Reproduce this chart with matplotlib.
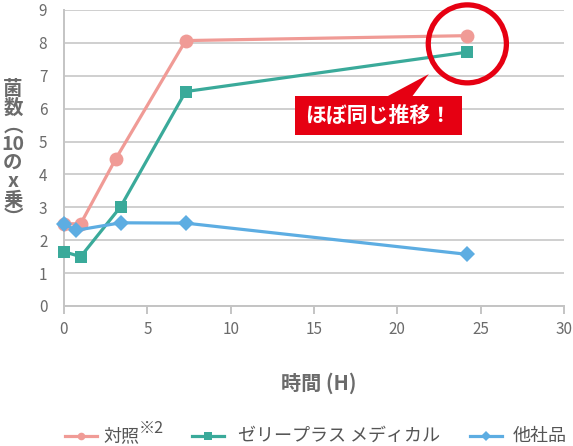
import matplotlib
matplotlib.use('Agg')
import matplotlib.pyplot as plt
from matplotlib.lines import Line2D
from matplotlib.patches import Ellipse, Rectangle, Polygon

plt.rcParams['font.family'] = ['Noto Sans CJK JP', 'DejaVu Sans']

# data
control_t = [0, 1, 3.1, 7.3, 24.2]
control_v = [2.5, 2.5, 4.47, 8.07, 8.22]
zeri_t = [0, 1, 3.4, 7.3, 24.2]
zeri_v = [1.65, 1.5, 3.02, 6.52, 7.72]
other_t = [0, 0.7, 3.4, 7.3, 24.2]
other_v = [2.5, 2.3, 2.53, 2.52, 1.57]

series_labels = ['対照', 'ゼリープラス メディカル', '他社品']
colors = ['#f09b96', '#3aaa9a', '#5dade2']
markers = ['o', 's', 'D']
msizes = [10, 9, 8]

W, H = 573, 446
fig = plt.figure(figsize=(W / 100, H / 100), dpi=100)
ax = fig.add_axes([64 / W, 1 - 306 / H, 500 / W, 296 / H])


def fx(px):
    return px / W


def fy(py):
    return 1 - py / H


gray_txt = '#6b6b6b'
grid_c = '#cfcfcf'

for t, v, c, m, s in zip([control_t, zeri_t, other_t],
                         [control_v, zeri_v, other_v],
                         colors, markers, msizes):
    ax.plot(t, v, color=c, lw=2.3, marker=m, markersize=s,
            markeredgewidth=0, zorder=3, clip_on=False)

ax.set_xlim(0, 30)
ax.set_ylim(0, 9)
ax.set_xticks(range(0, 31, 5))
ax.set_yticks(range(0, 10))
ax.yaxis.grid(True, color=grid_c, lw=1.4)
ax.set_axisbelow(True)
for sp in ['top', 'right']:
    ax.spines[sp].set_visible(False)
for sp in ['left', 'bottom']:
    ax.spines[sp].set_color('#c4c4c4')
    ax.spines[sp].set_linewidth(1.4)
ax.tick_params(axis='y', length=0, pad=12, labelsize=11, labelcolor=gray_txt)
ax.tick_params(axis='x', length=6, width=1.4, color='#c4c4c4', pad=5,
               labelsize=11, labelcolor=gray_txt)

# y label, written vertically
fig.text(fx(13), fy(154), '菌\n数\n︵\n10\nの\nx\n乗\n︶', ha='center',
         va='center', fontsize=14, fontweight='bold', color=gray_txt,
         linespacing=0.96)
fig.text(fx(319), fy(383), '時間 (H)', ha='center', va='center',
         fontsize=14.5, fontweight='bold', color=gray_txt)

# callout
red = '#e60012'
cx = control_t[-1]
cy = (control_v[-1] + zeri_v[-1]) / 2
ax.add_patch(Ellipse((cx, cy), 2 * 39 / 16.64, 2 * 39 / 32.9, fill=False,
                     ec=red, lw=3.8, clip_on=False, zorder=5))
ax.add_patch(Rectangle((13.88, 5.2), 9.98, 1.18, fc=red, ec='none', zorder=5))
ax.add_patch(Polygon([(19.38, 6.37), (21.89, 7.05), (20.89, 6.37)],
                     closed=True, fc=red, ec='none', zorder=5))
ax.text(18.87, 5.79, 'ほぼ同じ推移！', ha='center', va='center', color='white',
        fontsize=15, fontweight='bold', zorder=6)

# legend, drawn by hand
leg_y = 436
entries = [(65, 103), (192, 238), (470, 513)]
for (x0, tx), lab, c, m in zip(entries, series_labels, colors, markers):
    fig.add_artist(Line2D([fx(x0), fx(x0 + 16), fx(x0 + 32)],
                          [fy(leg_y)] * 3, color=c, lw=2.3, marker=m,
                          markersize=5.5, markeredgewidth=0,
                          markevery=[1]))
    fig.text(fx(tx), fy(leg_y), lab, ha='left', va='center', fontsize=13,
             color='#555555')
fig.text(fx(139), fy(428), '※2', ha='left', va='center', fontsize=11.5,
         color='#555555')

fig.savefig('out.png', dpi=100)
